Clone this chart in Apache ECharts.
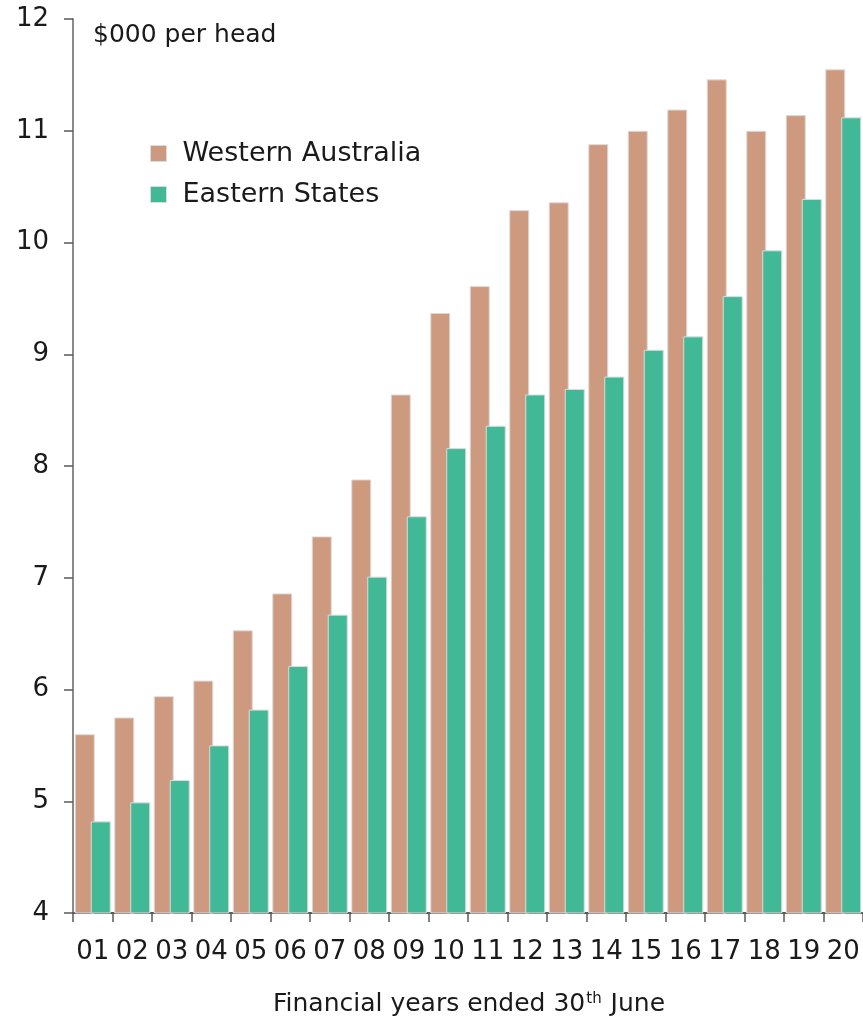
<!DOCTYPE html>
<html>
<head>
<meta charset="utf-8">
<script src="https://cdn.jsdelivr.net/npm/echarts@6/dist/echarts.min.js"></script>
<style>
  html, body { margin: 0; padding: 0; background: #fff; }
  #chart { width: 863px; height: 1023px; }
</style>
</head>
<body>
<div id="chart"></div>
<script>
// Financial years (two-digit) ended 30th June
const years = ['01','02','03','04','05','06','07','08','09','10','11','12','13','14','15','16','17','18','19','20'];

// $000 per head
const westernAustralia = [5.60, 5.75, 5.94, 6.08, 6.53, 6.86, 7.37, 7.88, 8.64, 9.37, 9.61, 10.29, 10.36, 10.88, 11.00, 11.19, 11.46, 11.00, 11.14, 11.55];
const easternStates    = [4.82, 4.99, 5.19, 5.50, 5.82, 6.21, 6.67, 7.01, 7.55, 8.16, 8.36, 8.64, 8.69, 8.80, 9.04, 9.16, 9.52, 9.93, 10.39, 11.12];

const yTicks = [4, 5, 6, 7, 8, 9, 10, 11, 12];

const FONT = '"DejaVu Sans", sans-serif';
const WA_COLOR = '#CD9A7F';
const ES_COLOR = '#42B996';

const chart = echarts.init(document.getElementById('chart'));

chart.setOption({
  animation: false,
  backgroundColor: '#ffffff',
  textStyle: { fontFamily: FONT, color: '#1a1a1a' },
  grid: { left: 73, right: 0, top: 19, bottom: 110, containLabel: false },
  legend: {
    orient: 'vertical',
    left: 145,
    top: 135,
    itemWidth: 16,
    itemHeight: 16,
    itemGap: 14,
    icon: 'rect',
    itemStyle: { borderColor: '#dcdcdc', borderWidth: 1 },
    textStyle: { fontFamily: FONT, fontSize: 27, color: '#1a1a1a', padding: [0, 0, 0, 11] },
    data: ['Western Australia', 'Eastern States']
  },
  graphic: [
    {
      type: 'text',
      left: 93,
      top: 23,
      style: { text: '$000 per head', fontFamily: FONT, fontSize: 25, fill: '#1a1a1a' }
    },
    {
      type: 'text',
      x: 469,
      y: 992,
      style: {
        text: '{a|Financial years ended 30}{s|th}{a| June}',
        align: 'center',
        rich: {
          a: { fontFamily: FONT, fontSize: 25, fill: '#1a1a1a', verticalAlign: 'bottom' },
          s: { fontFamily: FONT, fontSize: 15, fill: '#1a1a1a', verticalAlign: 'top', padding: [0, 1, 10, 1] }
        }
      }
    }
  ],
  xAxis: {
    type: 'category',
    data: years,
    boundaryGap: true,
    axisLine: { show: true, lineStyle: { color: '#5a5a5a', width: 2 } },
    axisTick: { show: true, alignWithLabel: false, length: 9, lineStyle: { color: '#5a5a5a', width: 1.5 } },
    axisLabel: { fontFamily: FONT, fontSize: 26, color: '#1a1a1a', margin: 26, interval: 0 },
    splitLine: { show: false }
  },
  yAxis: {
    type: 'value',
    min: yTicks[0],
    max: yTicks[yTicks.length - 1],
    interval: 1,
    axisLine: { show: true, lineStyle: { color: '#8a8a8a', width: 2 } },
    axisTick: { show: true, inside: false, length: 9, lineStyle: { color: '#5a5a5a', width: 1.5 } },
    axisLabel: { fontFamily: FONT, fontSize: 26, color: '#1a1a1a', margin: 24 },
    splitLine: { show: false }
  },
  series: [
    {
      name: 'Western Australia',
      type: 'bar',
      data: westernAustralia,
      barWidth: 20,
      barGap: '-20%',
      itemStyle: { color: WA_COLOR, borderColor: '#dcdcdc', borderWidth: 1 },
      z: 2
    },
    {
      name: 'Eastern States',
      type: 'bar',
      data: easternStates,
      barWidth: 20,
      itemStyle: { color: ES_COLOR, borderColor: '#dcdcdc', borderWidth: 1 },
      z: 3
    }
  ]
});
</script>
</body>
</html>
